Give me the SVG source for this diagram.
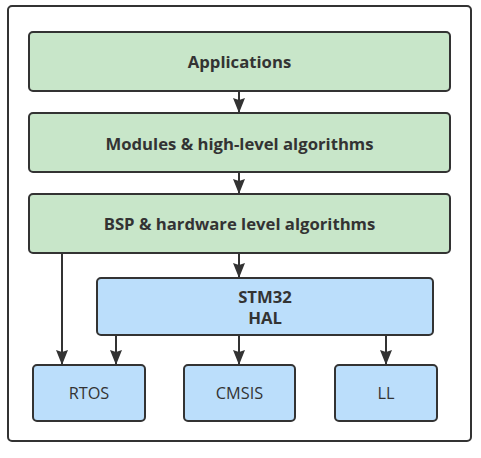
<svg xmlns="http://www.w3.org/2000/svg" width="481" height="458" viewBox="0 0 481 458">
<defs>
<style>
.frame{fill:#fff;stroke:#333;stroke-width:2}
.g{fill:#c8e6c9;stroke:#333;stroke-width:2}
.b{fill:#bbdefb;stroke:#333;stroke-width:2}
.tb{font-family:"Open Sans","Noto Sans",sans-serif;font-weight:bold;font-size:16.7px;fill:#333;text-anchor:middle;dominant-baseline:central}
.tr{font-family:"Open Sans","Noto Sans",sans-serif;font-size:16.3px;fill:#333;text-anchor:middle;dominant-baseline:central}
.c{stroke:#333;stroke-width:2;fill:none;marker-end:url(#ah)}
</style>
<marker id="ah" viewBox="0 0 15 12" refX="15" refY="6" markerWidth="15" markerHeight="12" markerUnits="userSpaceOnUse" orient="auto">
<path d="M0,0 L15,6 L0,12 L2,6 Z" fill="#333"/>
</marker>
</defs>
<rect class="frame" x="8" y="6" width="463" height="435" rx="4"/>
<g id="connectors">
<path class="c" d="M239,91 V113"/>
<path class="c" d="M239,172 V194"/>
<path class="c" d="M239,253 V278"/>
<path class="c" d="M62,253 V365"/>
<path class="c" d="M116,335 V365"/>
<path class="c" d="M239,335 V365"/>
<path class="c" d="M386,335 V365"/>
</g>
<g id="applications">
<rect class="g" x="29" y="32" width="421" height="59" rx="4"/>
<text class="tb" x="239.5" y="61">Applications</text>
</g>
<g id="modules">
<rect class="g" x="29" y="113" width="421" height="59" rx="4"/>
<text class="tb" x="239.5" y="143">Modules &amp; high-level algorithms</text>
</g>
<g id="bsp">
<rect class="g" x="29" y="194" width="421" height="59" rx="4"/>
<text class="tb" x="239.5" y="223">BSP &amp; hardware level algorithms</text>
</g>
<g id="hal">
<rect class="b" x="97" y="278" width="336" height="57" rx="4"/>
<text class="tb" x="265" y="296">STM32</text>
<text class="tb" x="265" y="317">HAL</text>
</g>
<g id="rtos">
<rect class="b" x="33" y="365" width="112" height="56" rx="4"/>
<text class="tr" x="89" y="393">RTOS</text>
</g>
<g id="cmsis">
<rect class="b" x="184" y="365" width="111" height="56" rx="4"/>
<text class="tr" x="239.5" y="393">CMSIS</text>
</g>
<g id="ll">
<rect class="b" x="335" y="365" width="102" height="56" rx="4"/>
<text class="tr" x="386" y="393">LL</text>
</g>
</svg>
